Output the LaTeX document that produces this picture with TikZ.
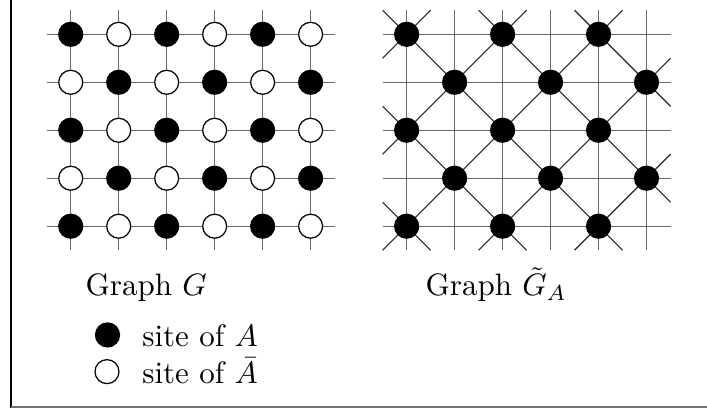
\documentclass[tikz,border=0pt]{standalone}
\usepackage{tikz}
\usetikzlibrary{positioning}

\begin{document}
\begin{tikzpicture}[
  site/.style={circle, draw=black, line width=0.4pt, minimum size=0.272cm, inner sep=0pt},
  siteA/.style={site, fill=black},
  siteB/.style={site, fill=white},
  lattice/.style={line width=0.35pt, draw=black!60},
  diag/.style={line width=0.35pt, draw=black!85},
  caption/.style={anchor=base west, inner sep=0pt}
]
\useasboundingbox (0,0) rectangle (8.017,4.626);

% ---------- FRAME ----------
\draw[line width=0.4pt] (0.125,0) -- (0.125,4.626);
\draw[line width=0.7pt, black!55] (0.125,0.012) -- (8.017,0.012);

\def\sp{0.544}
\def\hs{0.272}

% ---------- GRAPH G ----------
\foreach \i in {0,...,5}
  \foreach \j in {0,...,4}
    \coordinate (g-\i-\j) at (0.802+\i*\sp, 4.237-\j*\sp);

\foreach \j in {0,...,4}
  \draw[lattice] ([xshift=-\hs cm]g-0-\j) -- ([xshift=\hs cm]g-5-\j);
\foreach \i in {0,...,5}
  \draw[lattice] ([yshift=\hs cm]g-\i-0) -- ([yshift=-\hs cm]g-\i-4);

\foreach \i in {0,...,5}
  \foreach \j in {0,...,4} {
    \pgfmathtruncatemacro\odd{mod(\i+\j,2)}
    \ifnum\odd=0
      \node[siteA] (a-\i-\j) at (g-\i-\j) {};
    \else
      \node[siteB] (b-\i-\j) at (g-\i-\j) {};
    \fi
  }

% ---------- GRAPH G_A ----------
\foreach \i in {0,...,5}
  \foreach \j in {0,...,4}
    \coordinate (t-\i-\j) at (4.611+\i*\sp, 4.237-\j*\sp);

\foreach \j in {0,...,4}
  \draw[lattice] ([xshift=-\hs cm]t-0-\j) -- ([xshift=\hs cm]t-5-\j);
\foreach \i in {0,...,5}
  \draw[lattice] ([yshift=\hs cm]t-\i-0) -- ([yshift=-\hs cm]t-\i-4);

\foreach \i in {0,...,5}
  \foreach \j in {0,...,4} {
    \pgfmathtruncatemacro\odd{mod(\i+\j,2)}
    \ifnum\odd=0
      \draw[diag] ([shift={(-\hs,-\hs)}]t-\i-\j) -- ([shift={(\hs,\hs)}]t-\i-\j);
      \draw[diag] ([shift={(-\hs,\hs)}]t-\i-\j) -- ([shift={(\hs,-\hs)}]t-\i-\j);
    \fi
  }

\foreach \i in {0,...,5}
  \foreach \j in {0,...,4} {
    \pgfmathtruncatemacro\odd{mod(\i+\j,2)}
    \ifnum\odd=0
      \node[siteA] (s-\i-\j) at (t-\i-\j) {};
    \fi
  }

% ---------- CAPTIONS AND KEY ----------
\node[caption] (capG) at (0.964,1.270) {Graph $G$};
\node[caption] (capGA) at (4.819,1.270) {Graph $\tilde{G}_A$};

\node[siteA] (keyA) at (1.219,0.828) {};
\node[siteB] (keyB) at (1.213,0.412) {};
\node[caption] (txtA) at (1.607,0.695) {site of $A$};
\node[caption] (txtB) at (1.607,0.280) {site of $\bar{A}$};

\end{tikzpicture}
\end{document}
